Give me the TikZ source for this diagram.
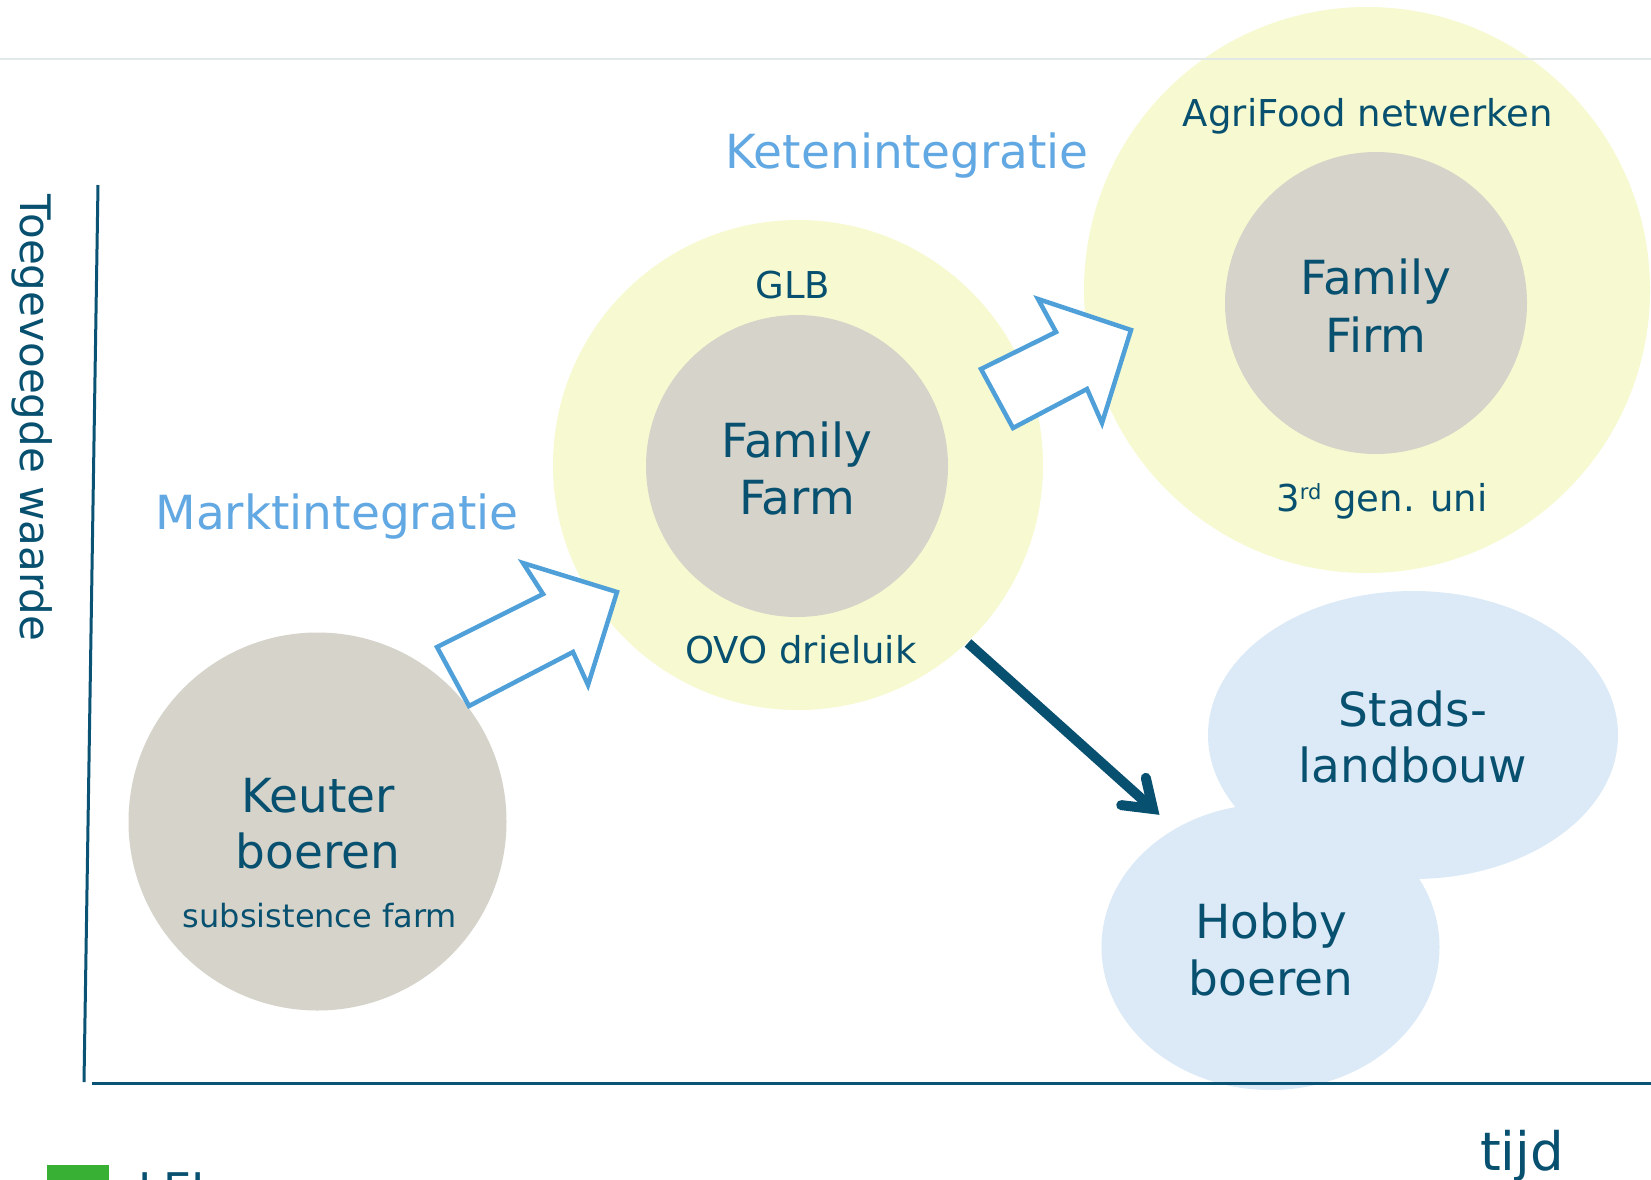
\documentclass[tikz,border=0pt]{standalone}
\usepackage{fontspec}
\setmainfont{DejaVu Sans}
\usetikzlibrary{shapes.geometric,calc}
\definecolor{dteal}{HTML}{08506F}
\definecolor{axcol}{HTML}{0B5374}
\definecolor{ycol}{HTML}{F7FAD0}
\definecolor{gcol}{HTML}{D5D3CA}
\definecolor{bcol}{HTML}{DBEAF6}
\definecolor{lbtext}{HTML}{62A8E2}
\definecolor{arrblue}{HTML}{4FA0D8}
\definecolor{topline}{HTML}{E2E7E7}
\definecolor{leigreen}{HTML}{38B034}
\begin{document}
\begin{tikzpicture}[x=1pt,y=-1pt,
  blob/.style={circle,inner sep=0pt,draw=none},
  oval/.style={ellipse,inner sep=0pt,draw=none,fill=bcol},
  bigtxt/.style={font=\fontsize{47}{56}\selectfont,text=dteal,anchor=base,inner sep=0pt},
  smalltxt/.style={font=\fontsize{37}{44}\selectfont,text=dteal,anchor=base,inner sep=0pt},
  headtxt/.style={font=\fontsize{47}{56}\selectfont,text=lbtext,anchor=base,inner sep=0pt},
  hollowarrow/.style={draw=arrblue,line width=4.5pt,line join=miter,fill=white},
  axisline/.style={draw=axcol,line width=3pt},
  darrow/.style={draw=dteal,line width=10pt},
  darrowhead/.style={draw=dteal,line width=10pt,line cap=round,line join=miter}]
\useasboundingbox (0,0) rectangle (1651,1179);
\fill[white] (0,0) rectangle (1651,1179);

% circles and ovals
\node[blob,fill=ycol,minimum size=490pt] (glb) at (798,465) {};
\node[blob,fill=ycol,minimum size=566pt] (net) at (1367,290) {};
\node[blob,fill=gcol,minimum size=302pt] (farm) at (797,466) {};
\node[blob,fill=gcol,minimum size=302pt] (firm) at (1376,303) {};
\node[blob,fill=gcol,minimum size=378pt] (keuter) at (317.5,821.5) {};
\node[oval,minimum width=410pt,minimum height=288pt] (stads) at (1413,735) {};
\node[oval,minimum width=338pt,minimum height=286pt] (hobby) at (1270.5,947) {};

% top line
\coordinate (tl) at (0,59);
\coordinate (tr) at (1651,59);
\draw[topline,line width=1.5pt] (tl) -- (tr);

% axes
\coordinate (yt) at (98,185);
\coordinate (yb) at (84,1082);
\coordinate (xl) at (92,1083);
\coordinate (xr) at (1651,1083);
\draw[axisline] (yt) -- (yb);
\draw[axisline] (xl) -- (xr);

% hollow arrows
\draw[hollowarrow] (437,647) -- (469,706) -- (573,652) -- (588,685) -- (617,592) -- (523,563) -- (543,594) -- cycle;
\draw[hollowarrow] (981,369) -- (1013,428) -- (1087,389) -- (1102,423) -- (1131,330) -- (1038,299) -- (1056,332) -- cycle;

% dark arrow
\coordinate (ds) at (968,643);
\coordinate (dt) at (1153,809);
\draw[darrow] (ds) -- (dt);
\draw[darrowhead] ($(dt)+(-7.2,-31.2)$) -- (dt) -- ($(dt)+(-31.8,-3.9)$);

% texts
\node[bigtxt] (k1) at (318,812) {Keuter};
\node[bigtxt] (k2) at (318,868) {boeren};
\node[font=\fontsize{32}{38}\selectfont,text=dteal,anchor=base,inner sep=0pt] (k3) at (320,927) {subsistence farm};

\node[bigtxt] (f1) at (797,457) {Family};
\node[bigtxt] (f2) at (797,514) {Farm};
\node[smalltxt] (g1) at (793,298) {GLB};
\node[smalltxt] (o1) at (801,663) {OVO drieluik};

\node[smalltxt] (a1) at (1368,126) {AgriFood netwerken};
\node[bigtxt] (ff1) at (1376,294) {Family};
\node[bigtxt] (ff2) at (1376,352) {Firm};
\node[smalltxt] (u1) at (1382,511) {3\raisebox{12pt}{\fontsize{21}{21}\selectfont rd} gen. uni};

\node[bigtxt] (s1) at (1413,726) {Stads-};
\node[bigtxt] (s2) at (1413,782) {landbouw};
\node[bigtxt] (h1) at (1271,938) {Hobby};
\node[bigtxt] (h2) at (1271,995) {boeren};

\node[headtxt] (mi) at (337,529) {Marktintegratie};
\node[headtxt] (ki) at (907,168) {Ketenintegratie};

\node[font=\fontsize{53}{60}\selectfont,text=dteal,anchor=base,inner sep=0pt] (tijd) at (1522,1170) {tijd};
\node[font=\fontsize{42}{50}\selectfont,text=dteal,anchor=base,inner sep=0pt,rotate=-90] (tw) at (20,418) {Toegevoegde waarde};

% logo (cut off at bottom)
\fill[leigreen] (47,1165) rectangle (109,1200);
\node[font=\fontsize{45}{45}\selectfont,text=dteal,anchor=base west,inner sep=0pt] (lei) at (138,1205) {LEI};
\end{tikzpicture}
\end{document}
